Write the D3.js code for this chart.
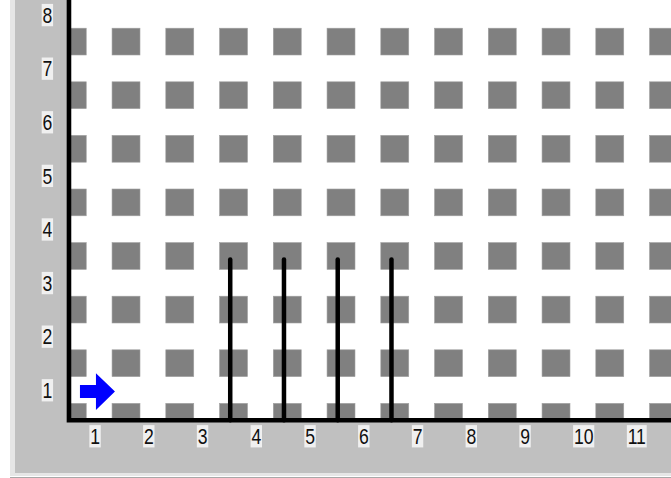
<!DOCTYPE html>
<html>
<head>
<meta charset="utf-8">
<script src="https://cdn.jsdelivr.net/npm/d3@7"></script>
<style>
  html, body { margin: 0; padding: 0; background: #ffffff; overflow: hidden; }
  svg { display: block; }
</style>
</head>
<body>
<script>
// world data
const xTicks = [1, 2, 3, 4, 5, 6, 7, 8, 9, 10, 11];
const yTicks = [1, 2, 3, 4, 5, 6, 7, 8];
const blockCols = [0.5, 1.5, 2.5, 3.5, 4.5, 5.5, 6.5, 7.5, 8.5, 9.5, 10.5, 11.5];
const blockRows = [0.5, 1.5, 2.5, 3.5, 4.5, 5.5, 6.5, 7.5];
const wallX = [3.5, 4.5, 5.5, 6.5];
const wallFrom = 0.5;
const wallTo = 3.5;
const robot = { x: 1, y: 1, dir: "east" };

const width = 671;
const height = 478;

const x = d3.scaleLinear().domain([0, 10]).range([45.4, 582.9]);
const y = d3.scaleLinear().domain([0, 8]).range([443.6, 14.8]);

const svg = d3.select("body").append("svg")
    .attr("width", width)
    .attr("height", height);

// window frame
svg.append("rect").attr("x", 10).attr("y", -5).attr("width", 670).attr("height", 481).attr("fill", "#e6e6e6");
svg.append("rect").attr("x", 15).attr("y", -5).attr("width", 660).attr("height", 478).attr("fill", "#c0c0c0");
svg.append("line").attr("x1", 10).attr("x2", 671).attr("y1", 477.5).attr("y2", 477.5)
    .attr("stroke", "#a8a8a8").attr("stroke-width", 1);

// offset of lines drawn by the old renderer
const dx = -3.3, dy = 3.5;
const axisX = x(0.5) + dx;
const axisY = y(0.5) + dy;

// plot area
svg.append("rect")
    .attr("x", axisX).attr("y", 0)
    .attr("width", width - axisX).attr("height", axisY)
    .attr("fill", "#ffffff");

svg.append("clipPath").attr("id", "plot")
    .append("rect")
    .attr("x", axisX).attr("y", 0)
    .attr("width", width - axisX).attr("height", axisY);

// blocks between streets
const bw = x(0.52) - x(0);
const bh = y(0) - y(0.5);
const cells = blockRows.flatMap(r => blockCols.map(c => ({ c, r })));

svg.append("g")
    .attr("clip-path", "url(#plot)")
    .selectAll("rect")
    .data(cells)
    .join("rect")
    .attr("x", d => x(d.c) - bw / 2)
    .attr("y", d => y(d.r) - bh / 2)
    .attr("width", bw)
    .attr("height", bh)
    .attr("fill", "#808080")
    .attr("stroke", "#a0a0a0")
    .attr("stroke-width", 0.6);

// robot arrow with white halo
const arrow = "M-17.5,-6.6H-1.5V-18.3L17.5,0L-1.5,18.5V6.6H-17.5Z";
const rg = svg.append("g")
    .attr("transform", `translate(${x(robot.x) - 1.7},${y(robot.y) + 1.5})`);
rg.append("path").attr("d", arrow)
    .attr("fill", "#ffffff").attr("stroke", "#ffffff")
    .attr("stroke-width", 9).attr("stroke-linejoin", "round");
rg.append("path").attr("d", arrow).attr("fill", "#0000ff");

// walls
svg.append("g")
    .attr("transform", `translate(${dx},${dy})`)
    .selectAll("line")
    .data(wallX)
    .join("line")
    .attr("x1", d => x(d)).attr("x2", d => x(d))
    .attr("y1", y(wallFrom)).attr("y2", y(wallTo))
    .attr("stroke", "#000000")
    .attr("stroke-width", 4.5)
    .attr("stroke-linecap", "round");

// axes
svg.append("path")
    .attr("d", `M${axisX},-5V${axisY}H${width + 5}`)
    .attr("fill", "none")
    .attr("stroke", "#000000")
    .attr("stroke-width", 4.6)
    .attr("stroke-linejoin", "miter");

// labels with light boxes (narrow old-style digits)
const sx = 0.8;

function boxedLabel(text, tx, ty) {
    const g = svg.append("g")
        .attr("transform", `translate(${tx},${ty}) scale(${sx},1)`);
    const t = g.append("text")
        .attr("font-family", "'Liberation Sans', Arial, sans-serif")
        .attr("font-size", 22)
        .attr("fill", "#111111")
        .text(text);
    const b = t.node().getBBox();
    g.insert("rect", "text")
        .attr("x", b.x - 1).attr("y", b.y + 1)
        .attr("width", b.width + 2).attr("height", b.height - 2)
        .attr("fill", "#f0f0f0");
}

xTicks.forEach(v => boxedLabel(String(v), x(v) - 9, 444));
yTicks.forEach(v => boxedLabel(String(v), 42.5, y(v) + 8));
</script>
</body>
</html>
